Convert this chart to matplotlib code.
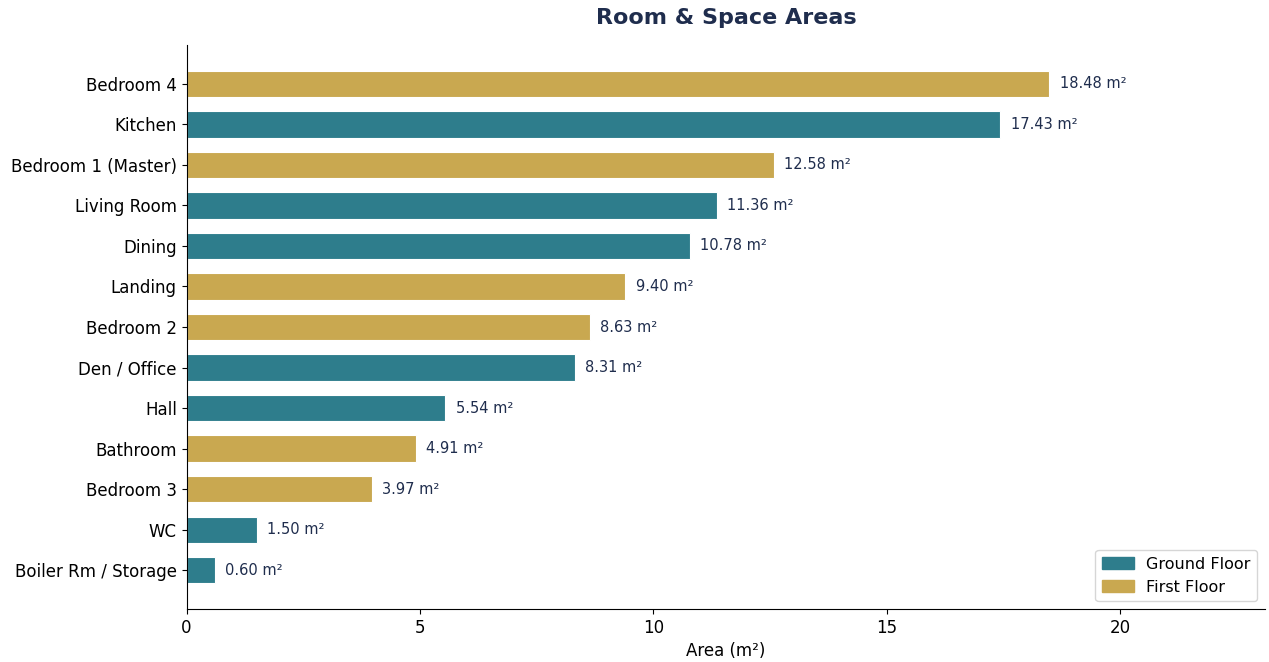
import os
import numpy as np
import matplotlib
matplotlib.use("Agg")
import matplotlib.pyplot as plt
from matplotlib import font_manager
from matplotlib.patches import Patch

# use the DejaVu files shipped with matplotlib itself
ttf_dir = os.path.join(matplotlib.get_data_path(), "fonts", "ttf")
reg = font_manager.FontProperties(fname=os.path.join(ttf_dir, "DejaVuSans.ttf"))
bold = font_manager.FontProperties(fname=os.path.join(ttf_dir, "DejaVuSans-Bold.ttf"))

# rooms listed top to bottom
rooms = ["Bedroom 4", "Kitchen", "Bedroom 1 (Master)", "Living Room", "Dining",
         "Landing", "Bedroom 2", "Den / Office", "Hall", "Bathroom",
         "Bedroom 3", "WC", "Boiler Rm / Storage"]
areas = [18.48, 17.43, 12.58, 11.36, 10.78, 9.40, 8.63, 8.31, 5.54, 4.91, 3.97, 1.50, 0.60]
floors = ["First", "Ground", "First", "Ground", "Ground", "First", "First",
          "Ground", "Ground", "First", "First", "Ground", "Ground"]

ground_col = "#2E7D8C"
first_col = "#C9A850"
navy = "#1F2D4D"

def fp(base, size):
    p = base.copy()
    p.set_size(size)
    return p

fig = plt.figure(figsize=(12.69, 6.62), dpi=100)
ax = fig.add_axes([0.147, 0.080, 0.850, 0.852])

# reverse so first room ends up at the top
ys = np.arange(len(rooms))[::-1]
colors = [ground_col if f == "Ground" else first_col for f in floors]
ax.barh(ys, areas, height=0.65, color=colors, edgecolor="white", linewidth=0.8)

for y, a in zip(ys, areas):
    ax.text(a + 0.22, y, f"{a:.2f} m²", va="center", ha="left",
            fontproperties=fp(reg, 10.5), color=navy)

ax.set_yticks(ys)
ax.set_yticklabels(rooms, fontproperties=fp(reg, 12))
ax.set_xlim(0, max(areas) * 1.25)
ax.set_xticks([0, 5, 10, 15, 20])
ax.set_xticklabels(["0", "5", "10", "15", "20"], fontproperties=fp(reg, 12))
ax.set_xlabel("Area (m²)", fontproperties=fp(reg, 12))
ax.set_title("Room & Space Areas", fontproperties=fp(bold, 16), color=navy, pad=15)

ax.spines["top"].set_visible(False)
ax.spines["right"].set_visible(False)

handles = [Patch(color=ground_col, label="Ground Floor"),
           Patch(color=first_col, label="First Floor")]
ax.legend(handles=handles, loc="lower right", prop=fp(reg, 11.5))

fig.savefig("out.png", dpi=100)
